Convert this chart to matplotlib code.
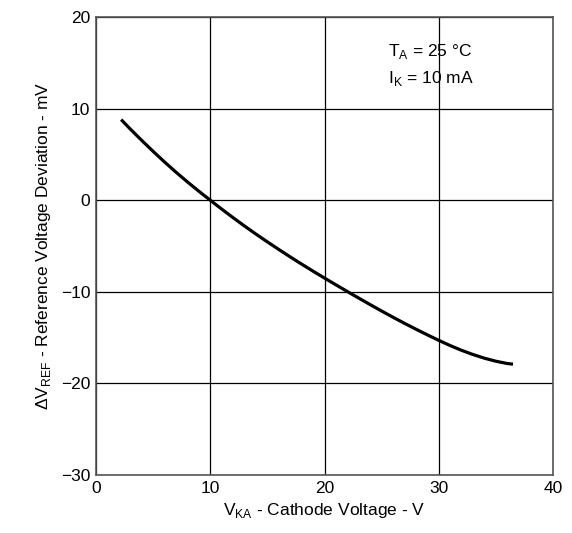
import matplotlib
matplotlib.use("Agg")
import matplotlib.pyplot as plt

plt.rcParams['font.family'] = ['Liberation Sans', 'DejaVu Sans']
plt.rcParams['mathtext.fontset'] = 'custom'
plt.rcParams['mathtext.rm'] = 'Liberation Sans'

vka = [2.2, 3, 4, 5, 6, 7, 8, 9, 10, 11, 12, 13, 14, 15, 16, 17, 18, 19, 20,
       21, 22, 23, 24, 25, 26, 27, 28, 29, 30, 31, 32, 33, 34, 35, 36, 36.5]
dvref = [8.8, 7.77, 6.53, 5.33, 4.17, 3.06, 2.0, 0.98, 0, -0.97, -1.91, -2.82,
         -3.70, -4.55, -5.38, -6.19, -6.98, -7.75, -8.50, -9.24, -9.97, -10.69,
         -11.40, -12.10, -12.78, -13.44, -14.08, -14.70, -15.30, -15.87, -16.39,
         -16.85, -17.25, -17.58, -17.83, -17.9]

xticks = [0, 10, 20, 30, 40]
yticks = [-30, -20, -10, 0, 10, 20]

fig = plt.figure(figsize=(5.72, 5.33), dpi=100)
ax = fig.add_axes([96/572, 1-475/533, (553-96)/572, (475-17)/533])
ax.plot(vka, dvref, color='black', lw=2.3, solid_capstyle='butt', solid_joinstyle='round')
ax.set_xlim(0, 40)
ax.set_ylim(-30, 20)
ax.set_xticks(xticks)
ax.set_yticks(yticks)
ax.set_yticklabels(['\u221230', '\u221220', '\u221210', '0', '10', '20'])
ax.grid(True, color='black', lw=0.9)
ax.tick_params(length=0, labelsize=12.5, pad=4)
for s in ax.spines.values():
    s.set_color('#555555')
    s.set_linewidth(1.2)

ax.set_xlabel(r'V$_{\mathrm{KA}}$ - Cathode Voltage - V', fontsize=12.5, labelpad=4)
ax.set_ylabel('\u0394V$_{\\mathrm{REF}}$ - Reference Voltage Deviation - mV', fontsize=12.5, labelpad=6)

ax.text(0.638, 0.925, r'T$_{\mathrm{A}}$ = 25 °C', transform=ax.transAxes, fontsize=12.5, va='center')
ax.text(0.638, 0.865, r'I$_{\mathrm{K}}$ = 10 mA', transform=ax.transAxes, fontsize=12.5, va='center')

fig.savefig('out.png', dpi=100)
